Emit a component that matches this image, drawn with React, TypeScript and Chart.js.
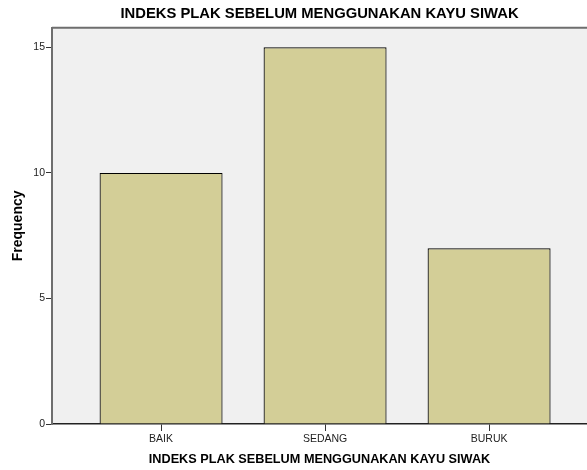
import React, { useEffect, useRef } from "react";
import { Chart, registerables } from "chart.js";

Chart.register(...registerables);

const titleText = "INDEKS PLAK SEBELUM MENGGUNAKAN KAYU SIWAK";
const categories = ["BAIK", "SEDANG", "BURUK"];
const frequencies = [10, 15, 7];
const yTickValues = [0, 5, 10, 15];
const yAxisLabel = "Frequency";

const FONT = "'Liberation Sans', Arial, Helvetica, sans-serif";

const bgPlugin = {
  id: "bgPlugin",
  beforeDraw(chart: any) {
    const { ctx, chartArea, width, height } = chart;
    ctx.save();
    ctx.fillStyle = "#ffffff";
    ctx.fillRect(0, 0, width, height);
    ctx.fillStyle = "#f0f0f0";
    ctx.fillRect(chartArea.left, chartArea.top, chartArea.right - chartArea.left, chartArea.bottom - chartArea.top);
    ctx.strokeStyle = "#6e6e6e";
    ctx.lineWidth = 2;
    ctx.beginPath();
    ctx.moveTo(chartArea.left, chartArea.top);
    ctx.lineTo(chartArea.right + 2, chartArea.top);
    ctx.stroke();
    ctx.restore();
  },
};

export default function App() {
  const canvasRef = useRef<HTMLCanvasElement | null>(null);

  useEffect(() => {
    if (!canvasRef.current) return;
    const chart = new Chart(canvasRef.current, {
      type: "bar",
      data: {
        datasets: [
          {
            data: frequencies.map((v, i) => ({ x: i, y: v })),
            backgroundColor: "#d3ce97",
            borderColor: "#000000",
            borderWidth: 1.2,
            inflateAmount: 0,
            barPercentage: 0.75,
            categoryPercentage: 1,
          },
        ],
      },
      options: {
        animation: false,
        responsive: false,
        layout: { padding: 0 },
        plugins: {
          legend: { display: false },
          tooltip: { enabled: false },
          title: {
            display: true,
            text: titleText,
            fullSize: false,
            color: "#000",
            font: { family: FONT, size: 14.8, weight: "bold" },
            padding: { top: 5, bottom: 5 },
          },
        },
        scales: {
          x: {
            type: "linear",
            min: -0.665,
            max: 2.597,
            offset: false,
            grid: {
              display: true,
              drawOnChartArea: false,
              drawTicks: true,
              tickLength: 7,
              tickColor: "#333",
              offset: false,
            },
            border: { display: true, color: "#222", width: 1.5 },
            afterBuildTicks: (scale: any) => {
              scale.ticks = categories.map((_, i) => ({ value: i }));
            },
            afterFit: (scale: any) => {
              scale.height = 46;
            },
            ticks: {
              color: "#222",
              padding: 2,
              maxRotation: 0,
              font: { family: FONT, size: 10.5 },
              callback: (v: any) => categories[Math.round(Number(v))] ?? "",
            },
            title: {
              display: true,
              text: titleText,
              color: "#000",
              font: { family: FONT, size: 12.7, weight: "bold" },
              padding: { top: 0, bottom: 2.4 },
            },
          },
          y: {
            min: 0,
            max: 15.78,
            grid: {
              display: true,
              drawOnChartArea: false,
              drawTicks: true,
              tickLength: 6,
              tickColor: "#333",
            },
            border: { display: true, color: "#6e6e6e", width: 2 },
            afterBuildTicks: (scale: any) => {
              scale.ticks = yTickValues.map((v) => ({ value: v }));
            },
            afterFit: (scale: any) => {
              scale.width = 52;
            },
            ticks: {
              color: "#222",
              padding: 1,
              font: { family: FONT, size: 10.5 },
            },
            title: {
              display: true,
              text: yAxisLabel,
              color: "#000",
              font: { family: FONT, size: 14, weight: "bold" },
              padding: { top: 10, bottom: 0 },
            },
          },
        },
      },
      plugins: [bgPlugin],
    } as any);
    return () => chart.destroy();
  }, []);

  return (
    <div style={{ position: "absolute", left: 0, top: 0, width: 587, height: 470, background: "#fff" }}>
      <canvas ref={canvasRef} width={587} height={470} style={{ width: 587, height: 470, display: "block" }} />
    </div>
  );
}
